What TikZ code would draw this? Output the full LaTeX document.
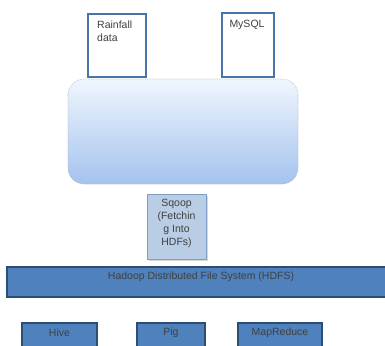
\documentclass[tikz,border=0pt]{standalone}
\usepackage{fontspec}
\setmainfont{Liberation Sans}
\usetikzlibrary{shadows}
\definecolor{bluefill}{HTML}{4F81BD}
\definecolor{blueline}{HTML}{2C4D75}
\definecolor{lightfill}{HTML}{B9CDE5}
\definecolor{lightline}{HTML}{7F9DC6}
\definecolor{srcline}{HTML}{4A74A8}
\definecolor{cloudtop}{RGB}{240,246,254}
\definecolor{cloudbot}{RGB}{164,195,238}
\begin{document}
\begin{tikzpicture}[x=1pt,y=-1pt,
  srcbox/.style={draw=srcline,line width=1.2pt,fill=white},
  darkbox/.style={draw=blueline,line width=1.2pt,fill=bluefill},
  lbl/.style={font=\fontsize{10.5}{13}\selectfont,text=black!75,inner sep=0pt},
  ]
\useasboundingbox (0,0) rectangle (385,345);
% sources
\draw[srcbox] (88,14) rectangle (146,77);
\node[lbl,anchor=north west,align=left] (rain) at (97,21) {Rainfall\\data};
\draw[srcbox] (222,13) rectangle (274,77);
\node[lbl,anchor=north] (mysql) at (247,20) {MySQL};
% cloud
\shade[top color=cloudtop,bottom color=cloudbot,rounded corners=16pt]
  (68,79) rectangle (298,184);
\draw[densely dotted,gray!60,line width=0.6pt,rounded corners=16pt] (68,79) rectangle (298,184);
\node (cloud) at (183,131) {};
% sqoop
\draw[draw=lightline,line width=0.8pt,fill=lightfill,drop shadow={shadow xshift=1.5pt,shadow yshift=-1.5pt,fill=gray!60}]
  (147,194) rectangle (206,259);
\node[lbl,align=center] (sqoop) at (176.5,223) {Sqoop\\(Fetchin\\g Into\\HDFs)};
% hdfs
\draw[darkbox] (7,267) rectangle (390,297);
\node[lbl] (hdfs) at (201,277) {Hadoop Distributed File System (HDFS)};
% tools
\draw[darkbox] (22,323) rectangle (97,350);
\node[lbl] (hive) at (59.5,333) {Hive};
\draw[darkbox] (137,323) rectangle (205,350);
\node[lbl] (pig) at (171,333) {Pig};
\draw[darkbox] (238,323) rectangle (322,350);
\node[lbl] (mr) at (280,333) {MapReduce};
\end{tikzpicture}
\end{document}
